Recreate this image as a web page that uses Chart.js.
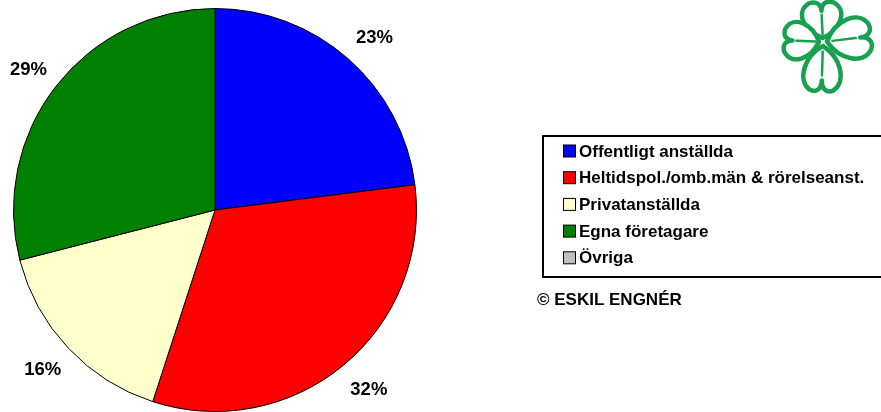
<!DOCTYPE html>
<html>
<head>
<meta charset="utf-8">
<script src="https://cdn.jsdelivr.net/npm/chart.js@4.4.0/dist/chart.umd.min.js"></script>
<style>
  html, body { margin: 0; padding: 0; background: #fff; }
  canvas { display: block; }
</style>
</head>
<body>
<canvas id="pieChart" width="881" height="412"></canvas>
<script>
// Kategorier och andelar (%)
const categories = ['Offentligt anställda', 'Heltidspol./omb.män & rörelseanst.', 'Privatanställda', 'Egna företagare', 'Övriga'];
const shares = [23, 32, 16, 29, 0];
const sliceColors = ['#0000ff', '#ff0000', '#ffffcc', '#008000', '#c0c0c0'];
const copyrightText = '© ESKIL ENGNÉR';

const FONT = '"Liberation Sans", Arial, sans-serif';

// Procentetiketter utanför tårtan
const percentLabels = {
  id: 'percentLabels',
  afterDatasetsDraw(chart) {
    const ctx = chart.ctx;
    const meta = chart.getDatasetMeta(0);
    ctx.save();
    ctx.font = 'bold 18.5px ' + FONT;
    ctx.fillStyle = '#000';
    ctx.textAlign = 'center';
    ctx.textBaseline = 'middle';
    meta.data.forEach((arc, i) => {
      const v = chart.data.datasets[0].data[i];
      if (!v) return;
      const p = arc.getProps(['x', 'y', 'startAngle', 'endAngle', 'outerRadius'], true);
      const mid = (p.startAngle + p.endAngle) / 2;
      const r = p.outerRadius + 32;
      let x = p.x + Math.cos(mid) * r;
      let y = p.y + Math.sin(mid) * r;
      x += Math.cos(mid) > 0 ? 5 : -2;
      if (Math.sin(mid) < 0) y += 3;
      ctx.fillText(v + '%', x, y);
    });
    ctx.restore();
  }
};

// Egen förklaring i ram till höger
const boxLegend = {
  id: 'boxLegend',
  afterDraw(chart) {
    const ctx = chart.ctx;
    const ds = chart.data.datasets[0];
    ctx.save();
    ctx.lineWidth = 2;
    ctx.strokeStyle = '#000';
    ctx.strokeRect(543, 136, 360, 141);
    ctx.font = 'bold 17px ' + FONT;
    ctx.textBaseline = 'middle';
    ctx.textAlign = 'left';
    chart.data.labels.forEach((lab, i) => {
      const y = 151 + i * 26.7;
      ctx.fillStyle = ds.backgroundColor[i];
      ctx.fillRect(563.5, y - 6, 12, 12);
      ctx.lineWidth = 1;
      ctx.strokeRect(563.5, y - 6, 12, 12);
      ctx.fillStyle = '#000';
      ctx.fillText(lab, 579, y + 1);
    });
    ctx.fillText(copyrightText, 537, 300);
    ctx.restore();
  }
};

// Fyrklöver (logotyp) uppe till höger
function leaf(ctx, cx, cy, angle, L, W) {
  ctx.save();
  ctx.translate(cx, cy);
  ctx.rotate(angle);
  ctx.beginPath();
  ctx.moveTo(0, -4);
  ctx.bezierCurveTo(-W * 0.9, -L * 0.3, -W * 1.25, -L * 0.8, -W * 0.6, -L);
  ctx.bezierCurveTo(-W * 0.2, -L * 1.08, 0, -L * 0.95, 0, -L * 0.8);
  ctx.bezierCurveTo(0, -L * 0.95, W * 0.2, -L * 1.08, W * 0.6, -L);
  ctx.bezierCurveTo(W * 1.25, -L * 0.8, W * 0.9, -L * 0.3, 0, -4);
  ctx.closePath();
  ctx.fillStyle = '#fff';
  ctx.lineWidth = 4.5;
  ctx.fill();
  ctx.stroke();
  ctx.beginPath();
  ctx.lineWidth = 2.5;
  ctx.lineCap = 'round';
  ctx.moveTo(0, -L * 0.2);
  ctx.lineTo(0, -L * 0.7);
  ctx.stroke();
  ctx.restore();
}

const clover = {
  id: 'clover',
  afterDraw(chart) {
    const ctx = chart.ctx;
    ctx.save();
    ctx.strokeStyle = '#16a050';
    ctx.lineJoin = 'round';
    const cx = 823, cy = 42;
    leaf(ctx, cx, cy, -0.05, 39, 21);
    leaf(ctx, cx, cy, Math.PI / 2 - 0.12, 47, 22);
    leaf(ctx, cx, cy, Math.PI + 0.03, 48, 20);
    leaf(ctx, cx, cy, -Math.PI / 2 + 0.05, 38, 20);
    ctx.restore();
  }
};

new Chart(document.getElementById('pieChart'), {
  type: 'pie',
  data: {
    labels: categories,
    datasets: [{
      data: shares,
      backgroundColor: sliceColors,
      borderColor: '#000',
      borderWidth: 1
    }]
  },
  options: {
    responsive: false,
    animation: false,
    layout: { padding: { left: 13, top: 8, right: 464, bottom: 0 } },
    plugins: {
      legend: { display: false },
      tooltip: { enabled: false }
    }
  },
  plugins: [percentLabels, boxLegend, clover]
});
</script>
</body>
</html>
